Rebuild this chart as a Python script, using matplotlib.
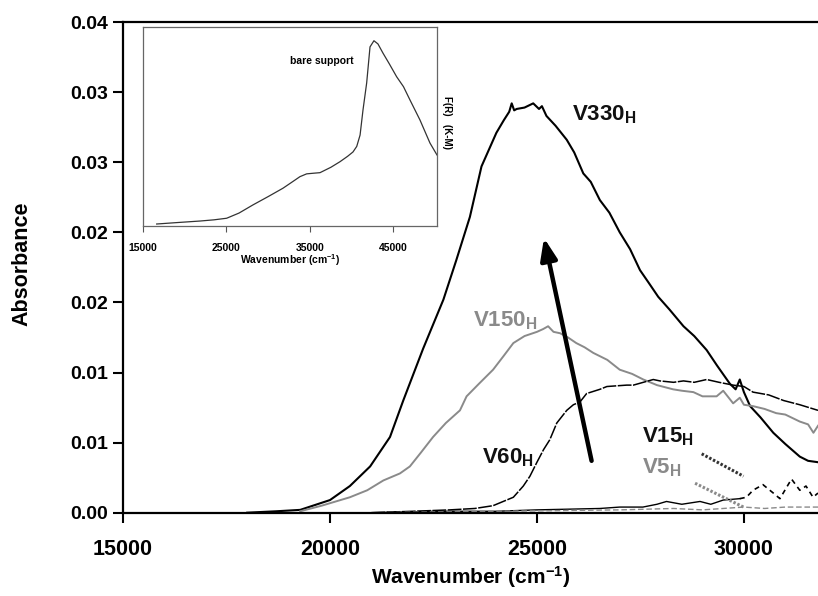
import matplotlib
matplotlib.use("Agg")
import matplotlib.pyplot as plt

plt.rcParams['font.family'] = ['Liberation Sans', 'DejaVu Sans']
plt.rcParams['font.weight'] = 'bold'
plt.rcParams['mathtext.fontset'] = 'custom'
plt.rcParams['mathtext.rm'] = 'Liberation Sans:bold'
plt.rcParams['mathtext.bf'] = 'Liberation Sans:bold'
plt.rcParams['mathtext.it'] = 'Liberation Sans:bold'

"""Main spectra, read off the picture (wavenumber cm-1, absorbance)"""
v330_x = [18000, 18700, 19280, 20000, 20480, 20970, 21450, 21770, 22250, 22740,
          23050, 23380, 23660, 24020, 24200, 24330, 24390, 24450, 24510, 24700, 24910,
          25050, 25120, 25230, 25450, 25720, 25900, 26120, 26300, 26520, 26750,
          27000, 27250, 27490, 27700, 27930, 28200, 28540, 28800, 29100, 29350,
          29660, 29800, 29900, 30000, 30150, 30400, 30710, 31000, 31350, 31550, 31790]
v330_y = [0.0000, 0.0001, 0.0002, 0.0009, 0.0019, 0.0033, 0.0054, 0.0080, 0.0117, 0.0152,
          0.0180, 0.0211, 0.0247, 0.0271, 0.0280, 0.0286, 0.0292, 0.0287, 0.0288, 0.0289, 0.0292,
          0.0288, 0.0290, 0.0283, 0.0276, 0.0266, 0.0257, 0.0242, 0.0236, 0.0223, 0.0214,
          0.0200, 0.0188, 0.0173, 0.0164, 0.0154, 0.0145, 0.0133, 0.0126, 0.0116, 0.0105,
          0.0092, 0.0088, 0.0095, 0.0086, 0.0076, 0.0068, 0.0057, 0.0049, 0.0040, 0.0037, 0.0036]

v150_x = [19280, 19800, 20480, 20900, 21290, 21690, 21930, 22200, 22490, 22800, 23140,
          23300, 23600, 23940, 24200, 24430, 24700, 25000, 25150, 25270, 25400, 25560,
          25750, 25950, 26150, 26360, 26700, 27000, 27300, 27570, 27900, 28290, 28500,
          28780, 29000, 29340, 29500, 29740, 29900, 30000, 30220, 30500, 30780, 31000,
          31350, 31550, 31680, 31790]
v150_y = [0.0001, 0.0005, 0.0011, 0.0016, 0.0023, 0.0028, 0.0033, 0.0043, 0.0054, 0.0064, 0.0073,
          0.0083, 0.0092, 0.0102, 0.0112, 0.0121, 0.0126, 0.0129, 0.0131, 0.0133, 0.0129, 0.0128,
          0.0125, 0.0121, 0.0118, 0.0114, 0.0109, 0.0102, 0.0099, 0.0095, 0.0091, 0.0088, 0.0087,
          0.0086, 0.0083, 0.0083, 0.0087, 0.0078, 0.0082, 0.0077, 0.0076, 0.0074, 0.0071, 0.0070,
          0.0065, 0.0063, 0.0057, 0.0062]

v60_x = [21000, 22000, 22900, 23500, 23940, 24430, 24670, 24830, 25000, 25160, 25310,
         25480, 25720, 25880, 26040, 26200, 26520, 26690, 27170, 27330, 27810, 27970,
         28300, 28540, 28800, 29100, 29400, 29740, 30000, 30220, 30600, 30960, 31350, 31790]
v60_y = [0.0000, 0.0001, 0.0002, 0.0003, 0.0005, 0.0011, 0.0019, 0.0026, 0.0036, 0.0045, 0.0052,
         0.0064, 0.0073, 0.0077, 0.0079, 0.0085, 0.0088, 0.0090, 0.0091, 0.0091, 0.0095, 0.0094,
         0.0093, 0.0094, 0.0093, 0.0095, 0.0093, 0.0091, 0.0090, 0.0086, 0.0084, 0.0080, 0.0077, 0.0073]

v15_x = [21000, 22500, 24000, 25000, 26520, 27000, 27560, 27900, 28130, 28500,
         28940, 29200, 29500, 29900]
v15_y = [0.0000, 0.0001, 0.0001, 0.0002, 0.0003, 0.0004, 0.0004, 0.0006, 0.0008, 0.0006,
         0.0008, 0.0006, 0.0009, 0.0010]

v15_tail_x = [29900, 30060, 30220, 30460, 30710, 30870, 31150, 31350, 31500, 31670, 31790]
v15_tail_y = [0.0010, 0.0011, 0.0016, 0.0020, 0.0014, 0.0010, 0.0024, 0.0016, 0.0019, 0.0011, 0.0014]

v5_x = [21000, 24000, 27000, 28300, 29000, 29500, 30000, 30500, 31000, 31790]
v5_y = [0.0000, 0.0001, 0.0002, 0.0003, 0.0002, 0.0003, 0.0004, 0.0003, 0.0004, 0.0004]

"""Short dotted swatches next to the V15 / V5 labels"""
v15_key_x = [28980, 29990]
v15_key_y = [0.0042, 0.0026]
v5_key_x = [28820, 29990]
v5_key_y = [0.0021, 0.0004]

"""Inset: bare support, normalised F(R)"""
bare_x = [16640, 19000, 21830, 23500, 25020, 26500, 28170, 30000, 31770, 33000,
          33800, 34600, 35360, 36200, 37500, 38590, 39500, 40150, 40600, 41000,
          41350, 41790, 42190, 42660, 43140, 43740, 44500, 45380, 46200, 46980,
          48170, 49370, 50210]
bare_y = [0.010, 0.017, 0.025, 0.031, 0.039, 0.065, 0.106, 0.148, 0.190, 0.225,
          0.248, 0.262, 0.265, 0.268, 0.295, 0.323, 0.350, 0.372, 0.400, 0.457,
          0.583, 0.719, 0.900, 0.931, 0.915, 0.869, 0.815, 0.750, 0.700, 0.633,
          0.533, 0.417, 0.357]

y_ticks = [0.0, 0.005, 0.010, 0.015, 0.020, 0.025, 0.030, 0.035]
y_tick_labels = ['0.00', '0.01', '0.01', '0.02', '0.02', '0.03', '0.03', '0.04']
x_ticks = [15000, 20000, 25000, 30000]
inset_ticks = [15000, 25000, 35000, 45000]

GRAY = '#8a8a8a'

fig = plt.figure(figsize=(8.18, 5.96), dpi=100)
ax = fig.add_axes([0.1504, 0.1398, 0.8496, 0.8232])

ax.plot(v330_x, v330_y, color='black', lw=1.5)
ax.plot(v150_x, v150_y, color=GRAY, lw=1.4)
ax.plot(v60_x, v60_y, color='black', lw=1.1, linestyle=(0, (9, 1)))
ax.plot(v15_x, v15_y, color='black', lw=1.0)
ax.plot(v15_tail_x, v15_tail_y, color='black', lw=1.2, linestyle=(0, (3, 2.5)))
ax.plot(v5_x, v5_y, color=GRAY, lw=1.0, linestyle=(0, (4, 2)))
ax.plot(v15_key_x, v15_key_y, color='#333333', lw=2.2, linestyle=(0, (0.8, 0.6)))
ax.plot(v5_key_x, v5_key_y, color=GRAY, lw=2.2, linestyle=(0, (0.8, 0.6)))

ax.annotate('', xy=(25170, 0.0196), xytext=(26320, 0.0037),
            arrowprops=dict(arrowstyle='-|>,head_length=1.3,head_width=0.5',
                            color='black', lw=3.2, shrinkA=0, shrinkB=0))

ax.text(25845, 0.0284, r'V330$_{\mathrm{H}}$', fontsize=16, fontweight='bold',
        color='#111111', va='center')
ax.text(23450, 0.0137, r'V150$_{\mathrm{H}}$', fontsize=16, fontweight='bold',
        color=GRAY, va='center')
ax.text(23670, 0.0039, r'V60$_{\mathrm{H}}$', fontsize=16, fontweight='bold',
        color='#111111', va='center')
ax.text(27540, 0.0054, r'V15$_{\mathrm{H}}$', fontsize=16, fontweight='bold',
        color='#111111', va='center')
ax.text(27540, 0.0032, r'V5$_{\mathrm{H}}$', fontsize=16, fontweight='bold',
        color=GRAY, va='center')

ax.set_xlim(15000, 31790)
ax.set_ylim(0, 0.035)
ax.set_xticks(x_ticks)
ax.set_xticklabels([str(t) for t in x_ticks], fontsize=15.5, fontweight='bold')
ax.set_yticks(y_ticks)
ax.set_yticklabels(y_tick_labels, fontsize=14, fontweight='bold')
ax.tick_params(direction='out', length=7, width=1.5, pad=4)
ax.tick_params(axis='x', pad=12)
for side in ['left', 'bottom', 'top']:
    ax.spines[side].set_linewidth(1.6)
ax.spines['right'].set_visible(False)
ax.set_xlabel(r'Wavenumber (cm$^{-1}$)', fontsize=15, fontweight='bold', labelpad=3)
ax.set_ylabel('Absorbance', fontsize=15.5, fontweight='bold')
ax.yaxis.set_label_coords(-0.131, 0.508)

"""Inset"""
ax_in = fig.add_axes([0.1748, 0.6208, 0.3594, 0.3339])
ax_in.plot(bare_x, bare_y, color='#333333', lw=0.9)
ax_in.set_xlim(15000, 50210)
ax_in.set_ylim(0, 1)
ax_in.set_yticks([])
ax_in.set_xticks(inset_ticks)
ax_in.set_xticklabels([str(t) for t in inset_ticks], fontsize=7.5, fontweight='bold')
ax_in.tick_params(axis='x', direction='out', length=4, width=0.8, colors='#555555',
                  labelcolor='black', pad=8)
for s in ax_in.spines.values():
    s.set_color('#666666')
    s.set_linewidth(0.9)
ax_in.set_xlabel(r'Wavenumber (cm$^{-1}$)', fontsize=7.5, fontweight='bold', labelpad=0)
ax_in.text(32600, 0.83, 'bare support', fontsize=7.5, fontweight='bold', va='center')
ax_in.text(1.034, 0.52, 'F(R)   (K-M)', transform=ax_in.transAxes, rotation=270,
           fontsize=7, fontweight='bold', ha='center', va='center')

fig.savefig('out.png', dpi=100)
